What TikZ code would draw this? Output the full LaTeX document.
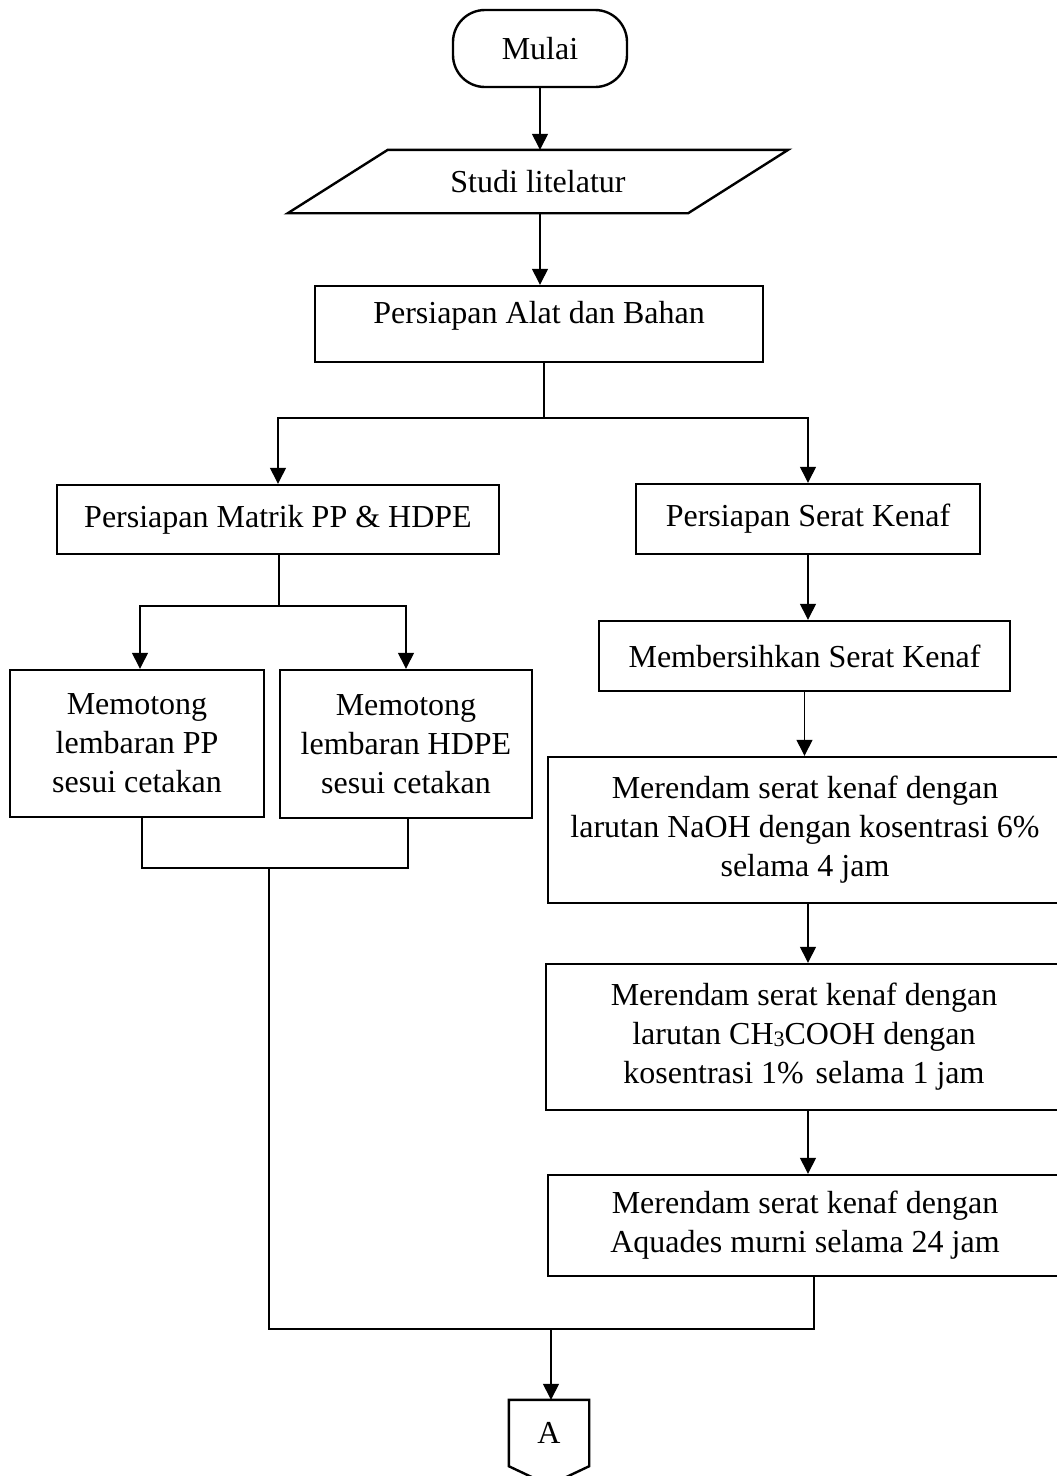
\documentclass[tikz,border=0pt]{standalone}
\usepackage{fontspec}
\setmainfont{Liberation Serif}
\usetikzlibrary{arrows.meta,calc}
\begin{document}
\begin{tikzpicture}[x=1pt,y=-1pt,
  txt/.style={font=\fontsize{32}{39}\selectfont, align=center, inner sep=0pt},
  box/.style={txt, draw, line width=2.4pt, rectangle},
  ghost/.style={txt, rectangle},
  outline/.style={line width=2.4pt, line join=miter},
  conn/.style={line width=1.3pt},
  arr/.style={conn, -{Triangle[width=16pt,length=16pt]}}]
\useasboundingbox (0,0) rectangle (1057,1476);
\fill[white] (0,0) rectangle (1057,1476);

% start
\node[box, rounded corners=32pt, minimum width=174pt, minimum height=77pt] (mulai) at (540,48.5) {Mulai};
% input
\node[ghost, minimum width=400pt, minimum height=63pt] (studi) at (538,181.5) {Studi litelatur};
\draw[outline] ([xshift=50pt]studi.north west) -- ([xshift=50pt]studi.north east)
  -- ([xshift=-50pt]studi.south east) -- ([xshift=-50pt]studi.south west) -- cycle;
% preparation
\node[box, minimum width=448pt, minimum height=76pt] (alat) at (539,324) {};
\node[txt] (alatT) at (539,316) {Persiapan Alat dan Bahan};

\node[box, minimum width=442pt, minimum height=69pt] (matrik) at (278,519.5) {Persiapan Matrik PP \& HDPE};
\node[box, minimum width=344pt, minimum height=70pt] (serat) at (808,519) {Persiapan Serat Kenaf};

\node[box, minimum width=254pt, minimum height=147pt] (pp) at (137,743.5) {Memotong\\lembaran PP\\sesui cetakan};
\node[box, minimum width=252pt, minimum height=148pt] (hdpe) at (406,744) {Memotong\\lembaran HDPE\\sesui cetakan};

\node[box, minimum width=411pt, minimum height=70pt] (bersih) at (804.5,656) {Membersihkan Serat Kenaf};
\node[box, minimum width=514pt, minimum height=146pt] (naoh) at (805,830) {Merendam serat kenaf dengan\\larutan NaOH dengan kosentrasi 6\%\\selama 4 jam};
\node[box, minimum width=516pt, minimum height=146pt] (asetat) at (804,1037) {Merendam serat kenaf dengan\\larutan CH{\raisebox{-2pt}{\fontsize{22}{22}\selectfont 3}}COOH dengan\\kosentrasi 1\%\hspace{0.12em} selama 1 jam};
\node[box, minimum width=514pt, minimum height=101pt] (aquades) at (805,1225.5) {Merendam serat kenaf dengan\\Aquades murni selama 24 jam};

% off-page connector
\node[ghost, minimum width=80pt, minimum height=66pt] (conA) at (549,1433) {A};
\draw[outline] (conA.north west) -- (conA.north east) -- (conA.south east)
  -- ([yshift=-19pt]conA.south) -- (conA.south west) -- cycle;

% junction points
\coordinate (j1) at (544,418);
\coordinate (j2) at (279,606);
\coordinate (j3) at (269,868);
\coordinate (j4) at (269,1329);
\coordinate (j5) at (814,1329);
\coordinate (j6) at (551,1329);

% connectors
\draw[arr] (mulai.south) -- (mulai.south |- studi.north);
\draw[arr] (mulai.south |- studi.south) -- (mulai.south |- alat.north);
\draw[conn] (j1 |- alat.south) -- (j1);
\draw[arr] (j1) -| (matrik.north);
\draw[arr] (j1) -| (serat.north);

\draw[conn] (matrik.south -| j2) -- (j2);
\draw[arr] (j2) -| ([xshift=3pt]pp.north);
\draw[arr] (j2) -| (hdpe.north);

\draw[conn] ([xshift=5pt]pp.south) -- ([xshift=5pt]pp.south |- j3) -- ([xshift=2pt]hdpe.south |- j3) -- ([xshift=2pt]hdpe.south);
\draw[conn] (j3) -- (j4) -- (j5) -- (j5 |- aquades.south);

\draw[arr] (serat.south) -- (serat.south |- bersih.north);
\draw[arr] (bersih.south) -- (bersih.south |- naoh.north);
\draw[arr] ([xshift=3pt]naoh.south) -- ([xshift=3pt]naoh.south |- asetat.north);
\draw[arr] ([xshift=4pt]asetat.south) -- ([xshift=4pt]asetat.south |- aquades.north);

\draw[arr] (j6) -- (j6 |- conA.north);
\end{tikzpicture}
\end{document}
